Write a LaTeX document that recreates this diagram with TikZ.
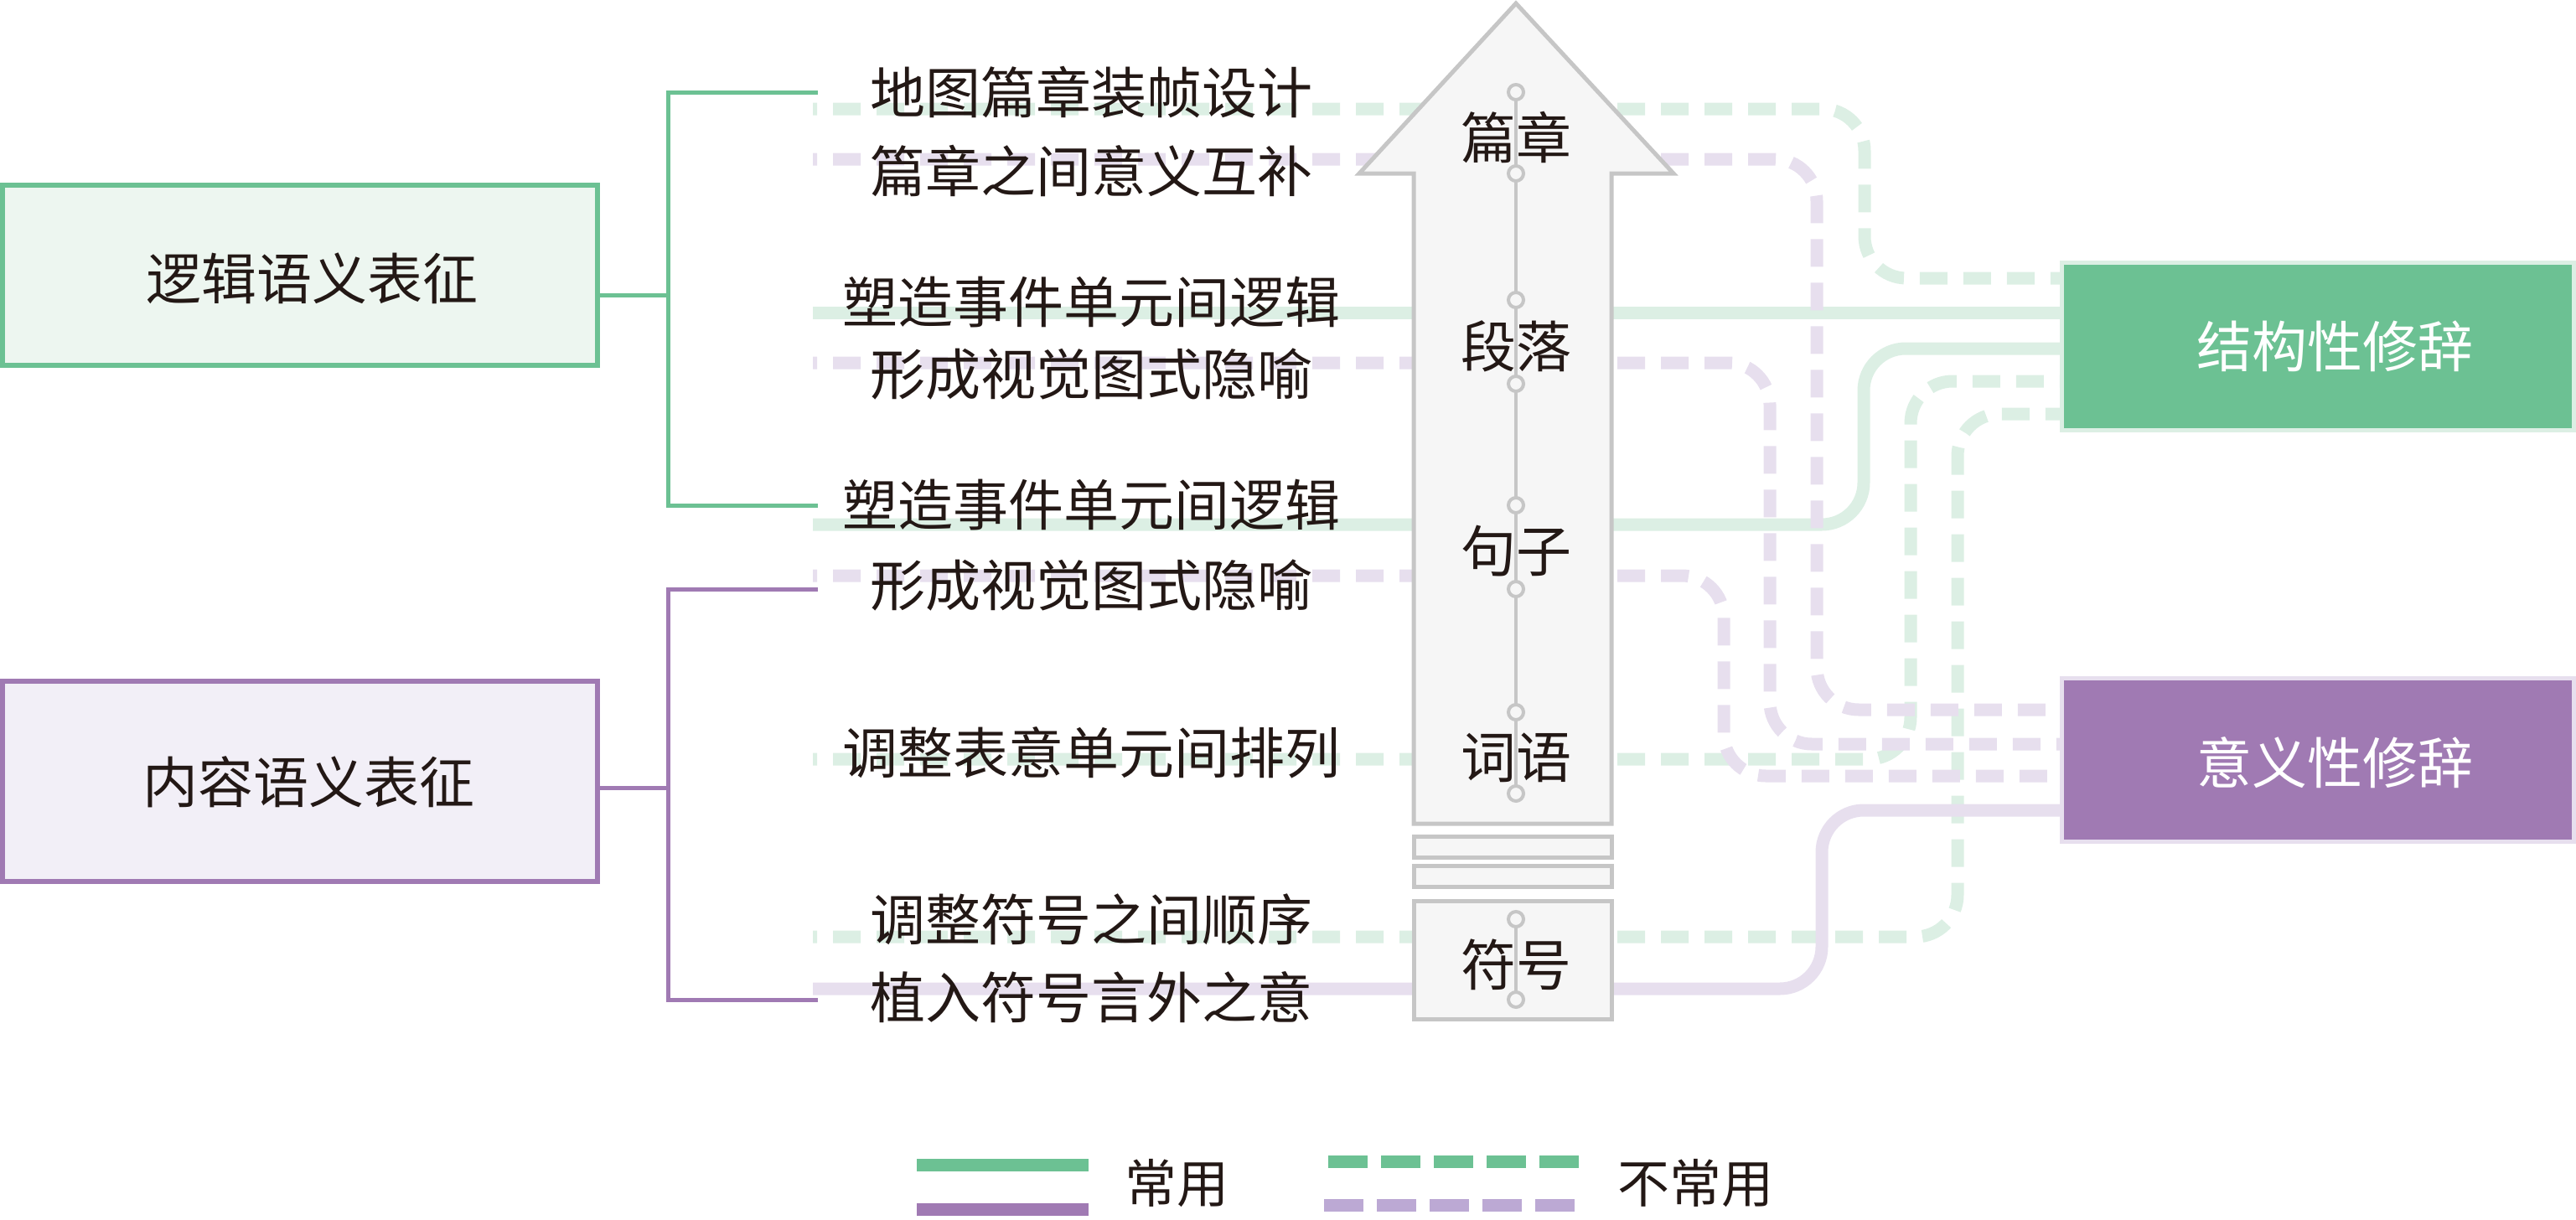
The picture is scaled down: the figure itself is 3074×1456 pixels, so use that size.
\documentclass[tikz,border=0pt]{standalone}
\usepackage{fontspec}
\newfontfamily\cjk{Noto Sans CJK SC}
\definecolor{gmain}{HTML}{6CC193}
\definecolor{gpale}{HTML}{DCEFE4}
\definecolor{gfill}{HTML}{EDF6F0}
\definecolor{pmain}{HTML}{A07AB3}
\definecolor{ppale}{HTML}{E7DFEE}
\definecolor{pfill}{HTML}{F2EFF7}
\definecolor{plegd}{HTML}{BCA9D4}
\definecolor{agray}{HTML}{C6C6C6}
\definecolor{afill}{HTML}{F6F6F6}
\definecolor{ink}{HTML}{231815}
\begin{document}
\begin{tikzpicture}[x=1pt,y=-1pt,
  txt/.style={font=\cjk\fontsize{66pt}{79pt}\selectfont, text=ink, inner sep=0pt},
  legtxt/.style={font=\cjk\fontsize{62pt}{74pt}\selectfont, text=ink, inner sep=0pt},
  wtxt/.style={font=\cjk\fontsize{66pt}{79pt}\selectfont, text=white, inner sep=0pt},
  conn/.style={line width=15pt, rounded corners=50pt},
  gsolid/.style={conn, draw=gpale},
  psolid/.style={conn, draw=ppale},
  gdash/.style={conn, draw=gpale, dash pattern=on 33pt off 19pt, dash phase=28pt},
  pdash/.style={conn, draw=ppale, dash pattern=on 33pt off 19pt, dash phase=28pt},
  brk/.style={line width=5pt},
  lbox/.style={line width=6pt, minimum width=710pt, inner sep=0pt},
  rbox/.style={line width=5pt, minimum width=611pt, inner sep=0pt},
  arr/.style={draw=agray, fill=afill, line width=5pt},
  ringdot/.style={circle, draw=agray, fill=afill, line width=4pt, minimum size=18pt, inner sep=0pt},
]
\useasboundingbox (0,0) rectangle (3074,1456);

% ---- left category boxes ----
\node[lbox, draw=gmain, fill=gfill, minimum height=215pt] (lg) at (358,328.5) {};
\node[txt] (lgt) at (372,332) {逻辑语义表征};
\node[lbox, draw=pmain, fill=pfill, minimum height=239pt] (lp) at (358,932.5) {};
\node[txt] (lpt) at (368,933) {内容语义表征};

% ---- brackets ----
\coordinate (bg) at (797,352);
\coordinate (bgt) at (976,110);
\coordinate (bgb) at (976,603);
\draw[brk, draw=gmain] (lg.east |- bg) -- (bg);
\draw[brk, draw=gmain] (bgt) -| (bg) |- (bgb);
\coordinate (bp) at (797,940);
\coordinate (bpt) at (976,703);
\coordinate (bpb) at (976,1193);
\draw[brk, draw=pmain] (lp.east |- bp) -- (bp);
\draw[brk, draw=pmain] (bpt) -| (bp) |- (bpb);

% ---- right boxes ----
\node[rbox, draw=gpale, fill=gmain, minimum height=200pt] (rg) at (2766,413.5) {};
\node[wtxt] (rgt) at (2786,413) {结构性修辞};
\node[rbox, draw=ppale, fill=pmain, minimum height=195pt] (rp) at (2766,907) {};
\node[wtxt] (rpt) at (2786,910) {意义性修辞};

% ---- connector end points ----
\coordinate (a1) at (970,130);  \coordinate (e1) at (2461,332);
\coordinate (a2) at (970,190);  \coordinate (e2) at (2461,847);
\coordinate (a3) at (970,373);  \coordinate (e3) at (2461,373);
\coordinate (a4) at (970,433);  \coordinate (e4) at (2461,888);
\coordinate (a5) at (970,626);  \coordinate (e5) at (2461,416);
\coordinate (a6) at (970,687);  \coordinate (e6) at (2461,926);
\coordinate (a7) at (970,906);  \coordinate (e7) at (2461,455);
\coordinate (a8) at (970,1118); \coordinate (e8) at (2461,494);
\coordinate (a9) at (970,1180); \coordinate (e9) at (2461,967);

% green connectors
\draw[gdash] (a1) -- (2225,130) -- (2225,332) -- (e1);
\draw[gsolid] (a3) -- (e3);
\draw[gsolid] (a5) -- (2224,626) -- (2224,416) -- (e5);
\draw[gdash] (a7) -- (2280,906) -- (2280,455) -- (e7);
\draw[gdash] (a8) -- (2336,1118) -- (2336,494) -- (e8);
% purple connectors
\draw[pdash] (a2) -- (2168,190) -- (2168,847) -- (e2);
\draw[pdash] (a4) -- (2112,433) -- (2112,888) -- (e4);
\draw[pdash] (a6) -- (2057,687) -- (2057,926) -- (e6);
\draw[psolid] (a9) -- (2174,1180) -- (2174,967) -- (e9);

% ---- central arrow ----
\draw[arr] (1687,983) -- (1687,207) -- (1622,207) -- (1809,4) -- (1997,207) -- (1923,207) -- (1923,983) -- cycle;
\draw[arr] (1687,998) rectangle (1923,1023);
\draw[arr] (1687,1033) rectangle (1923,1058);
\draw[arr] (1687,1075) rectangle (1923,1216);

\foreach \i/\y in {1/110,2/207,3/358,4/458,5/603,6/703,7/850,8/947,9/1097,10/1193}
  \coordinate (k\i) at (1809,\y);
\draw[agray, line width=4pt] (k1) -- (k8);
\draw[agray, line width=4pt] (k9) -- (k10);
\foreach \i in {1,...,10}
  \node[ringdot] (kd\i) at (k\i) {};

\node[txt] (lv1) at (1809,164) {篇章};
\node[txt] (lv2) at (1809,413) {段落};
\node[txt] (lv3) at (1809,658) {句子};
\node[txt] (lv4) at (1809,904) {词语};
\node[txt] (lv5) at (1809,1151) {符号};

% ---- middle labels ----
\node[txt] (t1) at (1302,110) {地图篇章装帧设计};
\node[txt] (t2) at (1302,204) {篇章之间意义互补};
\node[txt] (t3) at (1302,361) {塑造事件单元间逻辑};
\node[txt] (t4) at (1302,447) {形成视觉图式隐喻};
\node[txt] (t5) at (1302,603) {塑造事件单元间逻辑};
\node[txt] (t6) at (1302,699) {形成视觉图式隐喻};
\node[txt] (t7) at (1302,898) {调整表意单元间排列};
\node[txt] (t8) at (1302,1097) {调整符号之间顺序};
\node[txt] (t9) at (1302,1190) {植入符号言外之意};

% ---- legend ----
\coordinate (lg1a) at (1094,1390); \coordinate (lg1b) at (1299,1390);
\coordinate (lg2a) at (1094,1443); \coordinate (lg2b) at (1299,1443);
\coordinate (lg3a) at (1585,1386); \coordinate (lg3b) at (1884,1386);
\coordinate (lg4a) at (1580,1438); \coordinate (lg4b) at (1879,1438);
\draw[line width=15pt, draw=gmain] (lg1a) -- (lg1b);
\draw[line width=15pt, draw=pmain] (lg2a) -- (lg2b);
\draw[line width=15pt, draw=gmain, dash pattern=on 47pt off 16pt] (lg3a) -- (lg3b);
\draw[line width=15pt, draw=plegd, dash pattern=on 47pt off 16pt] (lg4a) -- (lg4b);
\node[legtxt] (leg1) at (1404,1412) {常用};
\node[legtxt] (leg2) at (2023,1412) {不常用};
\end{tikzpicture}
\end{document}
